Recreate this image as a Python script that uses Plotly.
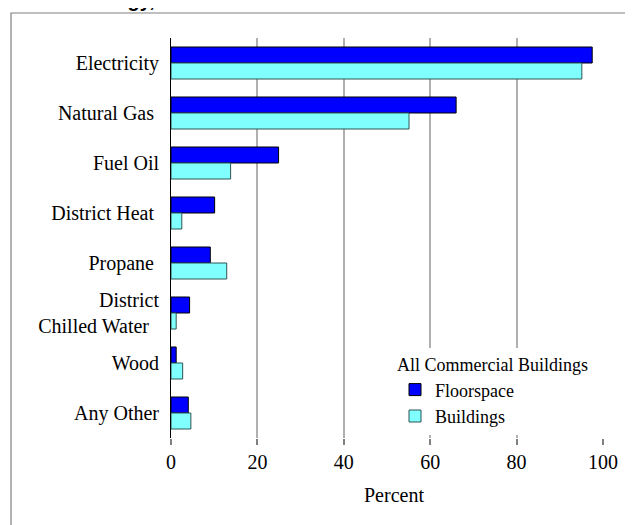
import plotly.graph_objects as go

categories = ["Electricity", "Natural Gas\u00a0", "Fuel Oil", "District Heat\u00a0", "Propane\u00a0",
              "District<br>Chilled Water\u00a0\u00a0", "Wood", "Any Other"]
floorspace = [97.5, 66.0, 24.9, 10.1, 9.1, 4.3, 1.2, 4.0]
buildings = [95.1, 55.1, 13.8, 2.5, 12.9, 1.2, 2.7, 4.6]
x_ticks = [0, 20, 40, 60, 80, 100]

FONT = "Liberation Serif, Times New Roman, serif"

# page has an 8px body margin; the figure is sized so it fills the window exactly
OFF = 8
PLOT_L, PLOT_R, PLOT_T, PLOT_B = 171, 603, 38, 438   # plot area in window pixels


def xp(px):
    return (px - PLOT_L) / (PLOT_R - PLOT_L)


def yp(py):
    return (PLOT_B - py) / (PLOT_B - PLOT_T)


fig = go.Figure()
fig.add_trace(go.Bar(y=categories, x=floorspace, orientation="h", name="Floorspace",
                     marker=dict(color="#0000FF", line=dict(color="#000000", width=1))))
fig.add_trace(go.Bar(y=categories, x=buildings, orientation="h", name="Buildings",
                     marker=dict(color="#80FFFF", line=dict(color="#2f5555", width=1))))

fig.update_layout(
    width=633 - OFF, height=525 - OFF,
    margin=dict(l=PLOT_L - OFF, r=633 - PLOT_R, t=PLOT_T - OFF, b=525 - PLOT_B),
    paper_bgcolor="white", plot_bgcolor="white",
    barmode="group", bargap=0.36, bargroupgap=0,
    font=dict(family=FONT, size=20, color="black"),
    showlegend=True,
    legend=dict(
        x=xp(395), y=yp(348), xanchor="left", yanchor="top",
        bgcolor="white", borderwidth=0,
        traceorder="normal",
        font=dict(family=FONT, size=18, color="black"),
        title=dict(text="All Commercial Buildings", side="top center",
                   font=dict(family=FONT, size=18, color="black")),
        itemwidth=30, tracegroupgap=2,
    ),
    xaxis=dict(
        range=[0, 100], tickvals=x_ticks, ticktext=[str(v) for v in x_ticks],
        showgrid=True, gridcolor="#b0b0b0", gridwidth=1.5,
        ticks="outside", ticklen=6, tickcolor="#808080", tickwidth=1.5,
        showline=False, zeroline=False,
        tickfont=dict(family=FONT, size=20, color="black"),
    ),
    yaxis=dict(
        autorange="reversed",
        showline=True, linecolor="black", linewidth=1,
        ticks="", ticklabelstandoff=7,
        tickfont=dict(family=FONT, size=20, color="black"),
        showgrid=False, zeroline=False,
    ),
    shapes=[dict(type="rect", xref="paper", yref="paper",
                 x0=xp(11), x1=xp(650), y0=yp(540), y1=yp(13),
                 line=dict(color="#808080", width=1.2), fillcolor="rgba(0,0,0,0)", layer="below")],
    annotations=[
        dict(text="Percent", xref="paper", yref="paper", x=xp(394), y=yp(495),
             xanchor="center", yanchor="middle", showarrow=False,
             font=dict(family=FONT, size=20, color="black")),
        dict(text="<b>Energy,</b>", xref="paper", yref="paper", x=xp(81), y=yp(13),
             xanchor="left", yanchor="bottom", showarrow=False,
             font=dict(family="Liberation Sans, Arial, sans-serif", size=20, color="black")),
    ],
)

fig.write_html("out.html")
